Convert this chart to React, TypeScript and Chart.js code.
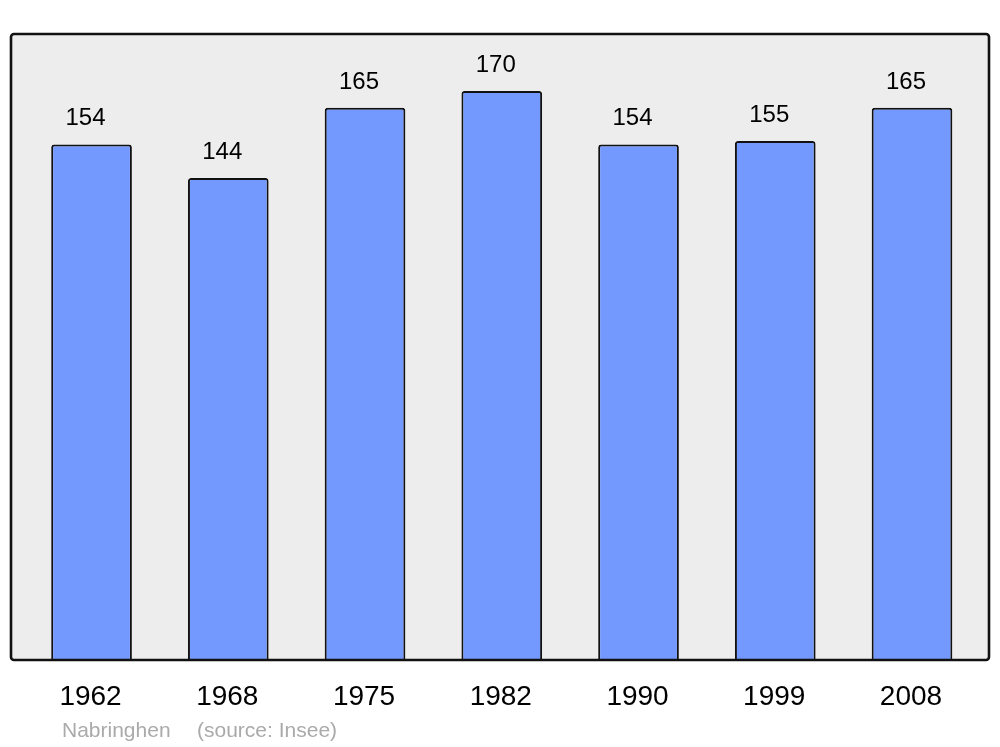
import React, { useEffect, useRef } from "react";
import { Chart, registerables } from "chart.js";

Chart.register(...registerables);

const years: string[] = ["1962", "1968", "1975", "1982", "1990", "1999", "2008"];
const population: number[] = [154, 144, 165, 170, 154, 155, 165];
const footerName = "Nabringhen";
const footerSource = "(source: Insee)";

const FONT = "'Liberation Sans', Arial, sans-serif";

const decorPlugin = {
  id: "decor",
  beforeDatasetsDraw(chart: any) {
    const { ctx, chartArea } = chart;
    const { left, top, right, bottom } = chartArea;
    ctx.save();
    ctx.beginPath();
    ctx.roundRect(left, top, right - left, bottom - top, 3);
    ctx.fillStyle = "#ededed";
    ctx.fill();
    ctx.restore();
  },
  afterDatasetsDraw(chart: any) {
    const { ctx, chartArea, scales } = chart;
    const { left, top, right, bottom } = chartArea;
    ctx.save();
    ctx.beginPath();
    ctx.roundRect(left, top, right - left, bottom - top, 3);
    ctx.lineWidth = 2.6;
    ctx.strokeStyle = "#111";
    ctx.stroke();

    const meta = chart.getDatasetMeta(0);
    ctx.fillStyle = "#000";
    ctx.textBaseline = "alphabetic";
    ctx.textAlign = "center";
    ctx.font = `24px ${FONT}`;
    meta.data.forEach((bar: any, i: number) => {
      ctx.fillText(String(population[i]), bar.x - 6, bar.y - 19);
    });

    ctx.font = `28px ${FONT}`;
    years.forEach((y, i) => {
      const x = scales.x.getPixelForValue(i);
      ctx.fillText(y, x - 1, 705);
    });

    ctx.textAlign = "left";
    ctx.font = `21px ${FONT}`;
    ctx.fillStyle = "#aaaaaa";
    ctx.fillText(footerName, 62, 737);
    ctx.fillText(footerSource, 197, 737);
    ctx.restore();
  },
};

export default function App() {
  const ref = useRef<HTMLCanvasElement | null>(null);
  useEffect(() => {
    if (!ref.current) return;
    const chart = new Chart(ref.current, {
      type: "bar",
      data: {
        datasets: [
          {
            data: population.map((v, i) => ({ x: i, y: v })),
            backgroundColor: "#7399ff",
            borderColor: "#111",
            borderWidth: 2,
            borderRadius: 3,
            borderSkipped: "start",
            barPercentage: 0.59,
            categoryPercentage: 1,
          },
        ],
      },
      options: {
        animation: false,
        responsive: false,
        maintainAspectRatio: false,
        layout: { padding: { left: 11, right: 11, top: 34, bottom: 87 } },
        plugins: { legend: { display: false }, tooltip: { enabled: false } },
        scales: {
          x: {
            type: "linear",
            offset: false,
            min: -0.589,
            max: 6.563,
            display: false,
            afterBuildTicks: (axis: any) => {
              axis.ticks = years.map((_, i) => ({ value: i }));
            },
          },
          y: { min: 0, max: 187, display: false },
        },
      },
      plugins: [decorPlugin],
    });
    return () => chart.destroy();
  }, []);
  return (
    <div style={{ position: "absolute", left: 0, top: 0, width: 1000, height: 747, background: "#fff" }}>
      <canvas ref={ref} width={1000} height={747} style={{ width: 1000, height: 747 }} />
    </div>
  );
}
